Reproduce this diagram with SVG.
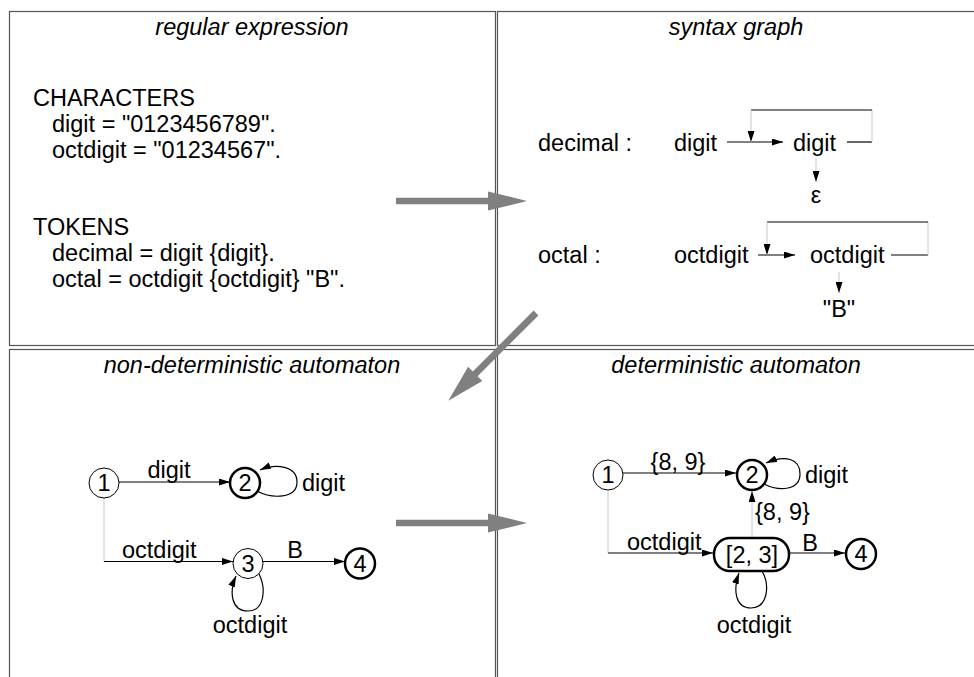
<svg xmlns="http://www.w3.org/2000/svg" width="974" height="677" viewBox="0 0 974 677">
<defs>
<marker id="ah" viewBox="0 0 11 7" refX="11" refY="3.5" markerWidth="11" markerHeight="7" markerUnits="userSpaceOnUse" orient="auto"><path d="M0,0 L11,3.5 L0,7 z" fill="#000"/></marker>
<polygon id="bigarrow" points="0,-3.2 92,-3.2 92,-9.5 131,0 92,9.5 92,3.2 0,3.2"/>
</defs>
<style>
text{font-family:"Liberation Sans",Arial,sans-serif;font-size:23.5px;fill:#000}
.title{font-style:italic}
.mid{text-anchor:middle}
.frame{fill:none;stroke:#555;stroke-width:1.2}
.ln{fill:none;stroke:#000;stroke-width:1.2}
.lt{fill:none;stroke:#c8c8c8;stroke-width:1}
.n{fill:#fff;stroke:#000;stroke-width:1}
.nb{fill:#fff;stroke:#000;stroke-width:2.5}
.big{fill:#808080}
</style>
<rect width="974" height="677" fill="#fff"/>
<g id="frames">
<rect class="frame" x="9.5" y="11.5" width="486" height="334"/>
<rect class="frame" x="497.5" y="11.5" width="500" height="334"/>
<rect class="frame" x="9.5" y="349.5" width="486" height="340"/>
<rect class="frame" x="497.5" y="349.5" width="500" height="340"/>
</g>
<g id="titles" class="title">
<text class="title mid" x="252" y="35">regular expression</text>
<text class="title mid" x="736" y="35">syntax graph</text>
<text class="title mid" x="252" y="373">non-deterministic automaton</text>
<text class="title mid" x="736" y="373">deterministic automaton</text>
</g>
<g id="regex">
<text x="33" y="106">CHARACTERS</text>
<text x="52" y="132">digit = "0123456789".</text>
<text x="52" y="158">octdigit = "01234567".</text>
<text x="33" y="235">TOKENS</text>
<text x="52" y="261">decimal = digit {digit}.</text>
<text x="52" y="287">octal = octdigit {octdigit} "B".</text>
</g>
<g id="big-arrows" class="big">
<use href="#bigarrow" transform="translate(396,201)"/>
<use href="#bigarrow" transform="translate(396,523)"/>
<polygon points="0,-3.4 86,-3.4 86,-10 124,0 86,10 86,3.4 0,3.4" transform="translate(536,313) rotate(135)"/>
</g>
<g id="syntax-graph">
<g id="sg-decimal">
<text x="538" y="151">decimal :</text>
<text x="674" y="151">digit</text>
<text x="793" y="151">digit</text>
<text class="mid" x="816" y="203">ε</text>
</g>
<g id="sg-octal">
<text x="538" y="263">octal :</text>
<text x="674" y="263">octdigit</text>
<text x="810" y="263">octdigit</text>
<text class="mid" x="839" y="317">"B"</text>
</g>
<g id="sg-connectors">
<path class="ln" d="M727,142 H783" marker-end="url(#ah)"/>
<path class="ln" d="M847,142 H872"/>
<path class="lt" d="M872,142 V110"/>
<path class="ln" d="M872,110 H751"/>
<path class="lt" d="M751,110 V142" marker-end="url(#ah)"/>
<path class="lt" d="M816,158 V182" marker-end="url(#ah)"/>
<path class="ln" d="M758,255 H795" marker-end="url(#ah)"/>
<path class="ln" d="M891,255 H928"/>
<path class="lt" d="M928,255 V222"/>
<path class="ln" d="M928,222 H767"/>
<path class="lt" d="M767,222 V255" marker-end="url(#ah)"/>
<path class="lt" d="M839,272 V293" marker-end="url(#ah)"/>
</g>
</g>
<g id="nfa-connectors">
<path class="ln" d="M119,482 H230" marker-end="url(#ah)"/>
<path class="ln" d="M257,491 C272,499 297,499 297,482 C297,466 276,463 260,470" marker-end="url(#ah)"/>
<path class="lt" d="M104,498 V561.5"/>
<path class="ln" d="M104,561.5 H233" marker-end="url(#ah)"/>
<path class="ln" d="M263,561.5 H345" marker-end="url(#ah)"/>
<path class="ln" d="M259,574 C266,588 265,611 248,611 C231,611 229,592 236,576" marker-end="url(#ah)"/>
</g>
<g id="nfa-labels">
<text class="mid" x="169" y="478">digit</text>
<text x="302" y="491">digit</text>
<text x="122" y="558">octdigit</text>
<text class="mid" x="295" y="558">B</text>
<text class="mid" x="250" y="633">octdigit</text>
</g>
<g id="nfa-1"><circle class="n" cx="104" cy="483" r="15"/><text class="mid" x="104" y="491">1</text></g>
<g id="nfa-2"><circle class="nb" cx="245" cy="483" r="15"/><text class="mid" x="245" y="491">2</text></g>
<g id="nfa-3"><circle class="n" cx="248" cy="563.5" r="15"/><text class="mid" x="248" y="571.5">3</text></g>
<g id="nfa-4"><circle class="nb" cx="360" cy="563.5" r="15"/><text class="mid" x="360" y="571.5">4</text></g>
<g id="dfa-connectors">
<path class="ln" d="M623,473 H736" marker-end="url(#ah)"/>
<path class="ln" d="M764,484 C780,492 800,490 800,474 C800,458 785,455 766,463" marker-end="url(#ah)"/>
<path class="lt" d="M752,538 V491" marker-end="url(#ah)"/>
<path class="lt" d="M608,491 V553"/>
<path class="ln" d="M608,553 H713" marker-end="url(#ah)"/>
<path class="ln" d="M789,553 H845" marker-end="url(#ah)"/>
<path class="ln" d="M762,571 C770,585 768,608 751,608 C735,608 733,590 739,573" marker-end="url(#ah)"/>
</g>
<g id="dfa-labels">
<text class="mid" x="678" y="470">{8, 9}</text>
<text x="805" y="483">digit</text>
<text x="755" y="520">{8, 9}</text>
<text x="627" y="550">octdigit</text>
<text class="mid" x="810" y="551">B</text>
<text class="mid" x="754" y="633">octdigit</text>
</g>
<g id="dfa-1"><circle class="n" cx="608" cy="475" r="15"/><text class="mid" x="608" y="483">1</text></g>
<g id="dfa-2"><circle class="nb" cx="752" cy="475" r="15"/><text class="mid" x="752" y="483">2</text></g>
<g id="dfa-23"><rect class="nb" x="714" y="538" width="75" height="33" rx="16"/><text class="mid" x="752" y="563">[2, 3]</text></g>
<g id="dfa-4"><circle class="nb" cx="861" cy="554" r="15"/><text class="mid" x="861" y="562">4</text></g>
</svg>
